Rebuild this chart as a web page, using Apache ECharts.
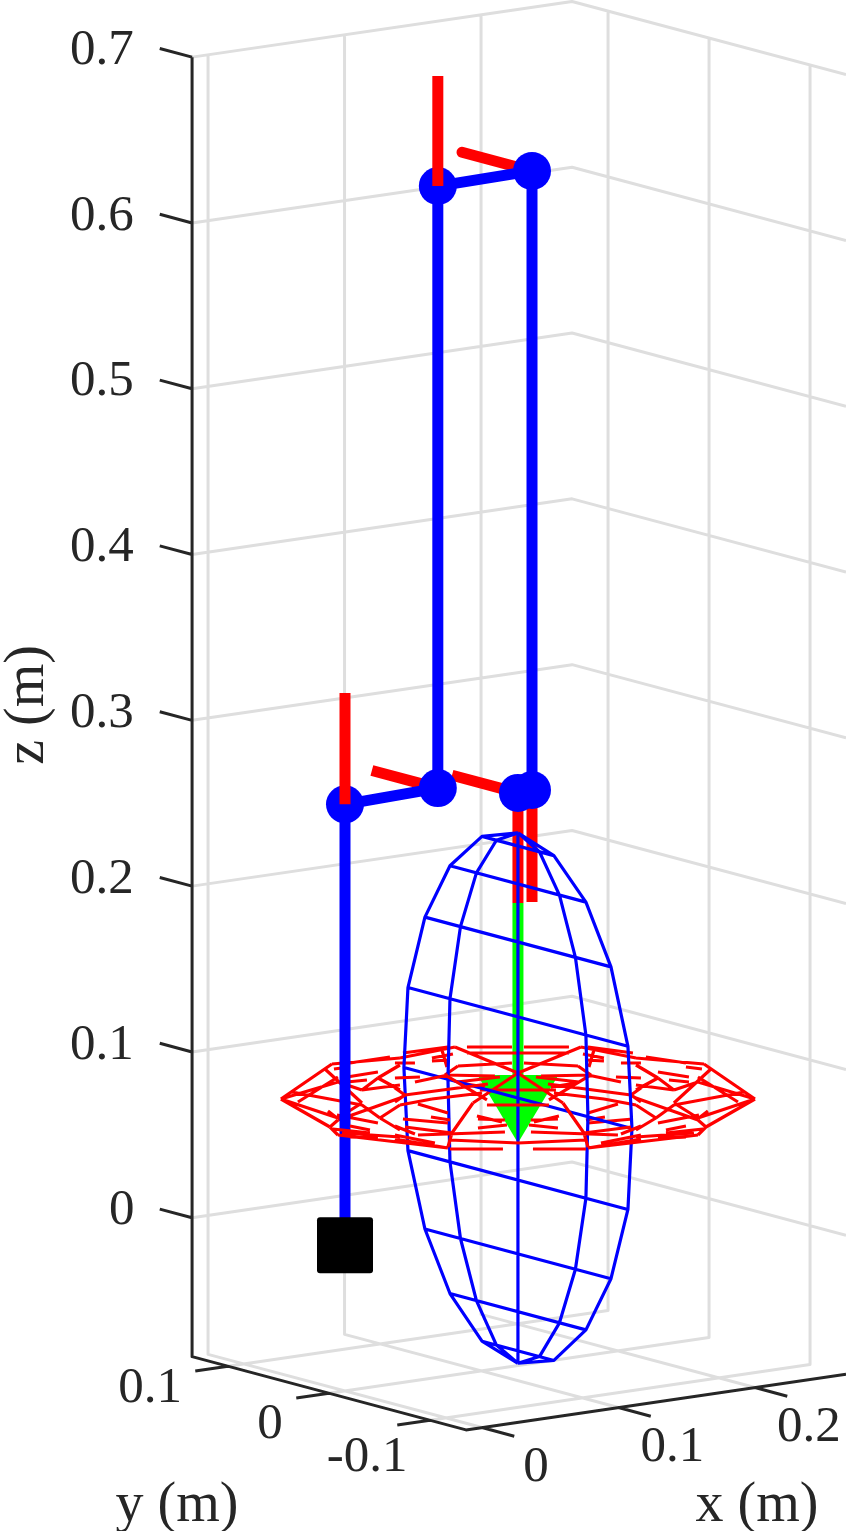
<!DOCTYPE html>
<html>
<head>
<meta charset="utf-8">
<style>html,body{margin:0;padding:0;background:#fff}#chart{width:846px;height:1531px}</style>
<script src="https://cdn.jsdelivr.net/npm/echarts@6/dist/echarts.min.js"></script>
</head>
<body>
<div id="chart"></div>
<script>
// axis limits and ticks (metres)
const xLim = [-0.0117, 0.2667];
const yLim = [-0.1356, 0.1356];
const zLim = [-0.0838, 0.7];
const xTicks = [0, 0.1, 0.2];
const yTicks = [-0.1, 0, 0.1];
const zTicks = [0, 0.1, 0.2, 0.3, 0.4, 0.5, 0.6, 0.7];
const xTickLabels = ['0', '0.1', '0.2'];
const yTickLabels = ['-0.1', '0', '0.1'];
const zTickLabels = ['0', '0.1', '0.2', '0.3', '0.4', '0.5', '0.6', '0.7'];

// robot links and joints, [x, y, z]
const basePoint = [0, 0, 0.004];
const linkPath = [[0, 0, 0.004], [0, 0, 0.27], [0.068, 0, 0.2716], [0.068, 0, 0.6347], [0.137, 0, 0.6355], [0.137, 0, 0.2621], [0.1267, 0, 0.2616]];
const joints = [[0, 0, 0.27], [0.068, 0, 0.2716], [0.068, 0, 0.6347], [0.137, 0, 0.6355], [0.137, 0, 0.2621], [0.1267, 0, 0.2616]];

// red frame axes, behind and over the joints
const framesBehind = [
    [[0.068, 0, 0.2716], [0.068, 0.0653, 0.2716]],
    [[0.1267, 0, 0.2616], [0.1267, 0.0653, 0.2616]],
    [[0.1267, 0, 0.2616], [0.1267, 0, 0.1952]],
    [[0.137, 0, 0.2621], [0.137, 0, 0.1946]]
];
const frameTop = [[0.137, 0, 0.6355], [0.137, 0.0693, 0.6355]];
const framesOver = [
    [[0, 0, 0.27], [0, 0, 0.3372]],
    [[0.068, 0, 0.6347], [0.068, 0, 0.7011]]
];

// green stem and arrow head
const stem = [[0.1267, 0, 0.1952], [0.1267, 0, 0.0915]];
const arrowHead = [0.1267, 0, 0.071];

// blue ellipsoid, flat in the x = const plane
const ellX = 0.1267;
const ellZ = 0.0776;
const blueRingZ = [0.1599, 0.152, 0.1291, 0.0941, 0.0489, 0, -0.0495, -0.094, -0.1289, -0.1525, -0.16];
const blueOuterY = [0, 0.0356, 0.0673, 0.0921, 0.1089, 0.1129, 0.1089, 0.0921, 0.0673, 0.0356, 0];
const blueInnerY = [0, 0.0213, 0.0411, 0.0569, 0.0673, 0.0693, 0.0673, 0.0569, 0.0411, 0.0213, 0];

// red flat ellipsoid: left half of its edges,
// [u1, v1, u2, v2] offsets from the disc centre on the view; the right half mirrors it
const redEdgesLeft = [
    [-237, 1, -186, -34], [-237, 1, -188, 29], [-186, -34, -118, -40], [-168, -35, -128, -41],
    [-184, -29, -168, -31], [-171, -21, -140, -26], [-171, -16, -151, -18], [-237, 1, -180, -16],
    [-220, 4, -180, -21], [-226, -6, -156, 7], [-193, -29, -156, 5], [-140, -20, -118, -33],
    [-140, -20, -118, -8], [-156, -8, -118, -13], [-188, 29, -180, 22], [-180, 22, -118, 0],
    [-181, 17, -140, 25], [-138, 20, -118, 7], [-138, 20, -118, 32], [-188, 29, -180, 37],
    [-180, 37, -70, 50], [-185, 31, -148, 35], [-176, 35, -118, 39], [-168, 39, -140, 40],
    [-237, 1, -180, 20], [-190, 13, -181, 20], [-168, 28, -148, 32],
    [-180, 20, -156, 5], [-180, -16, -156, -8], [-156, -8, -140, -20], [-156, 7, -138, 20],
    [-118, -40, -63, -51], [-115, -45, -70, -51], [-63, -51, 0, -25], [-51, -51, -6, -51],
    [-51, -45, -1, -45], [-60, -32, -6, -35], [-86, -40, -65, -44], [-76, -48, -71, -31],
    [-123, -35, -103, -35], [-73, -23, -60, -32], [-73, -23, -23, -22],
    [-123, -20, -98, -21], [-103, -16, -70, -23], [-73, -23, -31, 2], [-61, -16, -18, -21],
    [-38, -8, 0, -8], [-58, -15, -33, -11], [-113, -3, -30, -14], [-123, -10, -113, -3],
    [-113, -3, -123, 4], [-86, 1, -36, -5], [-100, 6, -70, 15], [-31, 7, 0, 7],
    [0, -25, -45, 5], [-45, 5, -66, 35], [-66, 35, -70, 49], [-115, 21, -70, 25],
    [-87, 19, -68, 22], [-41, 18, -16, 24], [-40, 21, -13, 22], [-40, 30, -11, 27],
    [-113, 29, -66, 35], [-100, 37, -13, 34], [-123, 37, -83, 45], [-123, 41, -70, 50],
    [-68, 42, 0, 45], [-68, 51, -15, 51], [-118, 0, -113, -3], [-118, 7, -86, 1],
    [-86, -37, -68, -38], [-123, 28, -103, 36]
];

const BLUE = '#0000ff', RED = '#ff0000', GREEN = '#00ff00', AXIS = '#262626', GRID = '#dedede';
const FONT = '"Liberation Serif", "Times New Roman", serif';
const BASE_SYMBOL = 'path://M3,0 L53,0 Q56,0 56,3 L56,53 Q56,56 53,56 L3,56 Q0,56 0,53 L0,3 Q0,0 3,0 Z';

// view of the 3D box as the picture shows it
function project(p) {
    return [345 + 1365 * p[0] - 1010 * p[1], 1252 - 200 * p[0] - 270 * p[1] - 1658 * p[2]];
}

function flat(segments) {
    const out = [];
    segments.forEach(seg => {
        seg.forEach(p => out.push(project(p)));
        out.push([NaN, NaN]);
    });
    return out;
}

function lineSeries(segments, color, width, cap, z) {
    return {
        type: 'line', data: flat(segments), showSymbol: false, symbol: 'none', clip: false, silent: true, z: z,
        connectNulls: false,
        lineStyle: { color: color, width: width, cap: cap || 'butt', join: 'round' }
    };
}

function markSeries(data, symbol, size, color, z, rotate) {
    return {
        type: 'scatter', data: data, symbol: symbol, symbolSize: size, symbolRotate: rotate || 0,
        clip: false, silent: true, z: z, itemStyle: { color: color, opacity: 1 }
    };
}

function textSeries(items, size, rotate) {
    return {
        type: 'scatter', symbolSize: 1, clip: false, silent: true, z: 20,
        itemStyle: { color: 'transparent', opacity: 1 },
        data: items,
        label: {
            show: true, position: 'inside', formatter: p => p.data[2], rotate: rotate || 0,
            fontFamily: FONT, fontSize: size, color: AXIS, opacity: 1
        }
    };
}

// grid
const gridSegs = [];
zTicks.forEach(z => {
    gridSegs.push([[xLim[0], yLim[1], z], [xLim[1], yLim[1], z], [xLim[1], yLim[0], z]]);
});
xTicks.forEach(x => {
    gridSegs.push([[x, yLim[1], zLim[1]], [x, yLim[1], zLim[0]], [x, yLim[0], zLim[0]]]);
});
yTicks.forEach(y => {
    gridSegs.push([[xLim[1], y, zLim[1]], [xLim[1], y, zLim[0]], [xLim[0], y, zLim[0]]]);
});

// axes and ticks
const axisSegs = [
    [[xLim[0], yLim[1], zLim[1]], [xLim[0], yLim[1], zLim[0]], [xLim[0], yLim[0], zLim[0]], [xLim[1], yLim[0], zLim[0]]]
];
zTicks.forEach(z => axisSegs.push([[xLim[0], yLim[1], z], [xLim[0], yLim[1] + 0.032, z]]));
xTicks.forEach(x => axisSegs.push([[x, yLim[0], zLim[0]], [x, yLim[0] - 0.032, zLim[0]]]));
yTicks.forEach(y => axisSegs.push([[xLim[0], y, zLim[0]], [xLim[0] - 0.024, y, zLim[0]]]));

// blue mesh
const blueSegs = [];
[blueOuterY, blueInnerY].forEach(ys => {
    [1, -1].forEach(s => blueSegs.push(ys.map((y, i) => [ellX, s * y, ellZ + blueRingZ[i]])));
});
blueSegs.push(blueRingZ.map(z => [ellX, 0, ellZ + z]));
blueOuterY.forEach((y, i) => {
    if (y > 0) blueSegs.push([[ellX, y, ellZ + blueRingZ[i]], [ellX, -y, ellZ + blueRingZ[i]]]);
});

// red mesh lies in the z = ellZ plane; offsets back to x, y there
function redPoint(u, v) {
    return [ellX + (270 * u - 1010 * v) / 570550, -(1365 * v + 200 * u) / 570550, ellZ];
}
const redEdges = [];
redEdgesLeft.forEach(e => {
    redEdges.push([redPoint(e[0], e[1]), redPoint(e[2], e[3])]);
    redEdges.push([redPoint(-e[0], e[1]), redPoint(-e[2], e[3])]);
});
// sort by depth against the blue plane and the pole
const redBack = [], redMid = [], redFront = [];
redEdges.forEach(e => {
    const mx = (e[0][0] + e[1][0]) / 2, my = (e[0][1] + e[1][1]) / 2;
    if (mx > ellX) redBack.push(e);
    else if (1010 * mx + 1365 * my > 0) redMid.push(e);
    else redFront.push(e);
});

const option = {
    animation: false,
    backgroundColor: '#fff',
    grid: { left: 0, top: 0, width: 846, height: 1531 },
    xAxis: { type: 'value', min: 0, max: 846, show: false },
    yAxis: { type: 'value', min: 0, max: 1531, inverse: true, show: false },
    series: [
        lineSeries(gridSegs, GRID, 3, 'butt', 1),
        lineSeries(axisSegs, AXIS, 3, 'butt', 2),
        lineSeries([stem], GREEN, 11, 'butt', 4),
        markSeries([project(arrowHead)], 'triangle', [81, 68], GREEN, 4, 180),
        lineSeries(framesBehind, RED, 11, 'butt', 5),
        lineSeries([frameTop], RED, 11, 'round', 5),
        lineSeries(redBack, RED, 3.2, 'butt', 6),
        lineSeries(blueSegs, BLUE, 3.2, 'butt', 7),
        lineSeries(redMid, RED, 3.2, 'butt', 8),
        lineSeries([linkPath], BLUE, 11, 'butt', 9),
        markSeries(joints.map(project), 'circle', 38, BLUE, 10),
        lineSeries(framesOver, RED, 11, 'butt', 11),
        lineSeries(redFront, RED, 3.2, 'butt', 12),
        markSeries([project(basePoint)], BASE_SYMBOL, 56, '#000', 13),
        textSeries(zTicks.map((z, i) => {
            const p = project([xLim[0], yLim[1] + 0.032, z]);
            const w = zTickLabels[i].length > 1 ? 32 : 12;
            return [p[0] - 26 - w, p[1] + 2, zTickLabels[i]];
        }), 51),
        textSeries(xTicks.map((x, i) => {
            const p = project([x, yLim[0], zLim[0]]);
            return [p[0] + 54, p[1] + 40, xTickLabels[i]];
        }), 51),
        textSeries(yTicks.map((y, i) => {
            const p = project([xLim[0], y, zLim[0]]);
            const off = [[-63, 37], [-59, 31], [-78, 22]][i];
            return [p[0] + off[0], p[1] + off[1], yTickLabels[i]];
        }), 51),
        textSeries([[177, 1506, 'y (m)'], [757, 1506, 'x (m)']], 56),
        textSeries([[28, 705, 'z (m)']], 56, 90)
    ]
};

const chart = echarts.init(document.getElementById('chart'), null, { renderer: 'canvas' });
chart.setOption(option);
</script>
</body>
</html>
